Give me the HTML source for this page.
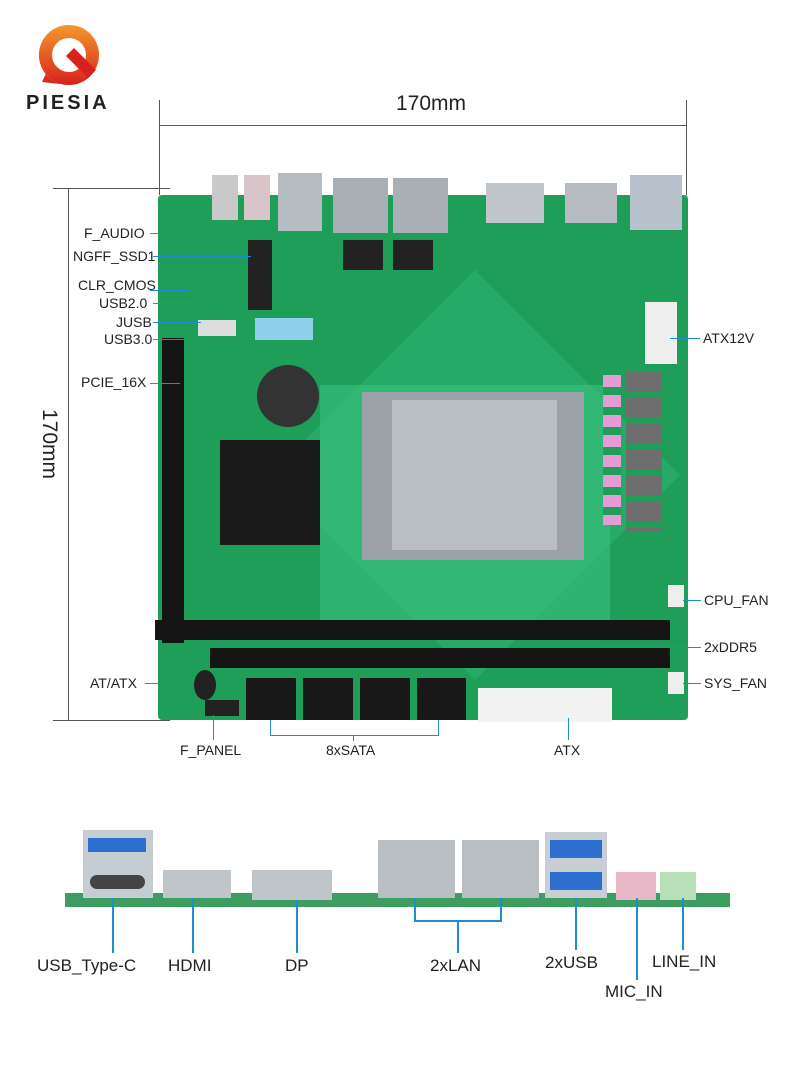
<!DOCTYPE html>
<html><head><meta charset="utf-8"><style>
body{margin:0;width:800px;height:1067px;background:#fff;position:relative;overflow:hidden;font-family:"Liberation Sans",sans-serif}
.a{position:absolute}
.l{position:absolute;font-size:14px;color:#222;white-space:nowrap}
.b{position:absolute;font-size:17px;color:#222;white-space:nowrap}
.ln{position:absolute;background:#1d8fd0}
.k{position:absolute;background:#555}
</style></head><body>
<!-- logo -->
<svg class="a" style="left:36px;top:22px" width="66" height="66" viewBox="0 0 66 66">
<defs><linearGradient id="g" x1="0" y1="0" x2="0" y2="1"><stop offset="0" stop-color="#f39a2a"/><stop offset="1" stop-color="#d8201c"/></linearGradient></defs>
<path d="M33 3a30 30 0 1 0 0 60 L6 60 Z" fill="url(#g)"/>
<circle cx="33" cy="33" r="30" fill="url(#g)"/><circle cx="33" cy="33" r="17" fill="#fff"/>
<path d="M30 34 L52 56 L60 48 L38 26Z" fill="#d8201c"/>
</svg>
<div class="a" style="left:26px;top:92px;font-size:20px;font-weight:bold;letter-spacing:3px;color:#222">PIESIA</div>
<!-- dimensions -->
<div class="k" style="left:159px;top:100px;width:1px;height:95px"></div>
<div class="k" style="left:686px;top:100px;width:1px;height:95px"></div>
<div class="k" style="left:160px;top:125px;width:526px;height:1px"></div>
<div class="a" style="left:396px;top:92px;font-size:21px;color:#222">170mm</div>
<div class="k" style="left:53px;top:188px;width:117px;height:1px"></div>
<div class="k" style="left:53px;top:720px;width:117px;height:1px"></div>
<div class="k" style="left:68px;top:188px;width:1px;height:532px"></div>
<div class="a" style="left:14px;top:432px;font-size:21px;color:#222;transform:rotate(90deg)">170mm</div>
<!-- board -->
<div class="a" style="left:158px;top:195px;width:530px;height:525px;background:#1f9e5a;border-radius:4px"></div>
<div class="a" style="left:330px;top:330px;width:290px;height:290px;background:#2bb873;transform:rotate(45deg);opacity:.5"></div>
<div class="a" style="left:320px;top:385px;width:290px;height:235px;background:#3ac27f;opacity:.6"></div>
<!-- top IO -->
<div class="a" style="left:212px;top:175px;width:26px;height:45px;background:#c9c9c9"></div>
<div class="a" style="left:244px;top:175px;width:26px;height:45px;background:#d9c5c9"></div>
<div class="a" style="left:278px;top:173px;width:44px;height:58px;background:#b5bcc2"></div>
<div class="a" style="left:333px;top:178px;width:55px;height:55px;background:#a9b0b5"></div>
<div class="a" style="left:393px;top:178px;width:55px;height:55px;background:#a9b0b5"></div>
<div class="a" style="left:486px;top:183px;width:58px;height:40px;background:#c1c6ca"></div>
<div class="a" style="left:565px;top:183px;width:52px;height:40px;background:#b5bbc0"></div>
<div class="a" style="left:630px;top:175px;width:52px;height:55px;background:#b7c2cc"></div>
<div class="a" style="left:343px;top:240px;width:40px;height:30px;background:#222"></div>
<div class="a" style="left:393px;top:240px;width:40px;height:30px;background:#222"></div>
<div class="a" style="left:248px;top:240px;width:24px;height:70px;background:#222"></div>
<div class="a" style="left:255px;top:318px;width:58px;height:22px;background:#8fd0ea"></div>
<div class="a" style="left:198px;top:320px;width:38px;height:16px;background:#ddd"></div>
<div class="a" style="left:645px;top:302px;width:32px;height:62px;background:#eee"></div>
<div class="a" style="left:257px;top:365px;width:62px;height:62px;border-radius:50%;background:#333"></div>
<!-- heatsink -->
<div class="a" style="left:220px;top:440px;width:100px;height:105px;background:#1a1a1a"></div>
<!-- socket -->
<div class="a" style="left:362px;top:392px;width:222px;height:168px;background:#9aa2a8"></div>
<div class="a" style="left:392px;top:400px;width:165px;height:150px;background:#b8bfc4"></div>
<!-- VRM -->
<div class="a" style="left:626px;top:372px;width:36px;height:160px;background:repeating-linear-gradient(#6e6e6e 0 20px,#1f9e5a 20px 26px)"></div>
<div class="a" style="left:603px;top:375px;width:18px;height:150px;background:repeating-linear-gradient(#e49bd6 0 12px,#1f9e5a 12px 20px)"></div>
<div class="a" style="left:668px;top:585px;width:16px;height:22px;background:#eee"></div>
<div class="a" style="left:668px;top:672px;width:16px;height:22px;background:#eee"></div>
<!-- pcie -->
<div class="a" style="left:162px;top:338px;width:22px;height:305px;background:#151515"></div>
<!-- dimms -->
<div class="a" style="left:155px;top:620px;width:515px;height:20px;background:#151515"></div>
<div class="a" style="left:210px;top:648px;width:460px;height:20px;background:#151515"></div>
<!-- sata -->
<div class="a" style="left:246px;top:678px;width:220px;height:42px;background:repeating-linear-gradient(90deg,#181818 0 50px,#1f9e5a 50px 57px)"></div>
<div class="a" style="left:478px;top:688px;width:134px;height:34px;background:#f2f2f2"></div>
<div class="a" style="left:194px;top:670px;width:22px;height:30px;border-radius:50%;background:#222"></div>
<div class="a" style="left:205px;top:700px;width:34px;height:16px;background:#222"></div>
<!-- left labels -->
<div class="l" style="left:84px;top:225px">F_AUDIO</div><div class="ln" style="left:150px;top:233px;width:60px;height:1px"></div>
<div class="l" style="left:73px;top:248px">NGFF_SSD1</div><div class="ln" style="left:153px;top:256px;width:98px;height:1px"></div>
<div class="l" style="left:78px;top:277px">CLR_CMOS</div><div class="ln" style="left:150px;top:290px;width:40px;height:1px"></div>
<div class="l" style="left:99px;top:295px">USB2.0</div><div class="ln" style="left:153px;top:303px;width:45px;height:1px"></div>
<div class="l" style="left:116px;top:314px">JUSB</div><div class="ln" style="left:153px;top:322px;width:48px;height:1px"></div>
<div class="l" style="left:104px;top:331px">USB3.0</div><div class="ln" style="left:153px;top:339px;width:100px;height:1px"></div>
<div class="l" style="left:81px;top:374px">PCIE_16X</div><div class="ln" style="left:150px;top:383px;width:30px;height:1px"></div>
<div class="l" style="left:90px;top:675px">AT/ATX</div><div class="ln" style="left:145px;top:683px;width:20px;height:1px"></div>
<!-- right labels -->
<div class="l" style="left:703px;top:330px">ATX12V</div><div class="ln" style="left:670px;top:338px;width:30px;height:1px"></div>
<div class="l" style="left:704px;top:592px">CPU_FAN</div><div class="ln" style="left:683px;top:600px;width:18px;height:1px"></div>
<div class="l" style="left:704px;top:639px">2xDDR5</div><div class="ln" style="left:595px;top:647px;width:106px;height:1px"></div>
<div class="l" style="left:704px;top:675px">SYS_FAN</div><div class="ln" style="left:683px;top:683px;width:18px;height:1px"></div>
<!-- bottom labels -->
<div class="l" style="left:180px;top:742px">F_PANEL</div><div class="ln" style="left:213px;top:715px;width:1px;height:25px"></div>
<div class="l" style="left:326px;top:742px">8xSATA</div>
<div class="ln" style="left:270px;top:720px;width:1px;height:15px"></div><div class="ln" style="left:438px;top:720px;width:1px;height:15px"></div><div class="ln" style="left:270px;top:735px;width:169px;height:1px"></div><div class="ln" style="left:353px;top:735px;width:1px;height:6px"></div>
<div class="l" style="left:554px;top:742px">ATX</div><div class="ln" style="left:568px;top:718px;width:1px;height:22px"></div>
<!-- IO panel -->
<div class="a" style="left:65px;top:893px;width:665px;height:14px;background:#3e9e62"></div>
<div class="a" style="left:83px;top:830px;width:70px;height:68px;background:#c5ccd2"></div>
<div class="a" style="left:88px;top:838px;width:58px;height:14px;background:#2d6fd0"></div>
<div class="a" style="left:90px;top:875px;width:55px;height:14px;background:#444;border-radius:7px"></div>
<div class="a" style="left:163px;top:870px;width:68px;height:28px;background:#c0c5c9"></div>
<div class="a" style="left:252px;top:870px;width:80px;height:30px;background:#bfc5c9"></div>
<div class="a" style="left:378px;top:840px;width:77px;height:58px;background:#b8bec2"></div>
<div class="a" style="left:462px;top:840px;width:77px;height:58px;background:#b8bec2"></div>
<div class="a" style="left:545px;top:832px;width:62px;height:66px;background:#c8ced3"></div>
<div class="a" style="left:550px;top:840px;width:52px;height:18px;background:#2d6fd0"></div>
<div class="a" style="left:550px;top:872px;width:52px;height:18px;background:#2d6fd0"></div>
<div class="a" style="left:616px;top:872px;width:40px;height:28px;background:#e8b8c8"></div>
<div class="a" style="left:660px;top:872px;width:36px;height:28px;background:#b8dfb8"></div>
<div class="b" style="left:37px;top:956px">USB_Type-C</div><div class="ln" style="left:112px;top:898px;width:2px;height:55px"></div>
<div class="b" style="left:168px;top:956px">HDMI</div><div class="ln" style="left:192px;top:898px;width:2px;height:55px"></div>
<div class="b" style="left:285px;top:956px">DP</div><div class="ln" style="left:296px;top:900px;width:2px;height:53px"></div>
<div class="b" style="left:430px;top:956px">2xLAN</div>
<div class="ln" style="left:414px;top:898px;width:2px;height:22px"></div><div class="ln" style="left:500px;top:898px;width:2px;height:22px"></div><div class="ln" style="left:414px;top:920px;width:88px;height:2px"></div><div class="ln" style="left:457px;top:920px;width:2px;height:33px"></div>
<div class="b" style="left:545px;top:953px">2xUSB</div><div class="ln" style="left:575px;top:898px;width:2px;height:52px"></div>
<div class="b" style="left:652px;top:952px">LINE_IN</div><div class="ln" style="left:682px;top:898px;width:2px;height:52px"></div>
<div class="b" style="left:605px;top:982px">MIC_IN</div><div class="ln" style="left:636px;top:898px;width:2px;height:82px"></div>
</body></html>
